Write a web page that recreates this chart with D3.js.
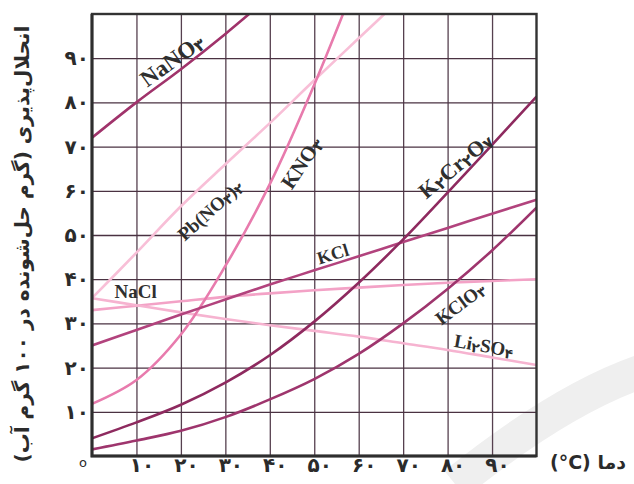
<!DOCTYPE html>
<html>
<head>
<meta charset="utf-8">
<script src="https://cdn.jsdelivr.net/npm/d3@7"></script>
<style>
  body { margin: 0; background: #fff; }
  #canvas { width: 634px; height: 484px; }
</style>
</head>
<body>
<div id="canvas"></div>
<script>
// temperatures (°C) and solubility values
const temps = [0, 10, 20, 30, 40, 50, 60, 70, 80, 90, 100];
const nano3 = [72, 80, 87.5, 95.5, 104];                 // 0..40
const kno3 = [11.8, 17.2, 27.5, 43, 61.5, 84, 109];       // 0..60
const pbno32 = [35.7, 46, 56.5, 66, 75.3, 85, 94.5, 104]; // 0..70
const kcl = [25, 28.5, 32, 35.4, 38.8, 42, 45.2, 48.4, 51.6, 54.8, 58];
const nacl = [33, 34, 35, 36, 36.8, 37.5, 38.1, 38.7, 39.2, 39.6, 40];
const li2so4 = [35.7, 34.1, 32.5, 31, 29.6, 28.3, 27, 25.5, 24, 22.3, 20.6];
const k2cr2o7 = [4, 7.6, 11.6, 16.6, 22.8, 30.4, 39.2, 49, 59.6, 70.4, 81.3];
const kclo3 = [1.5, 3.5, 5.7, 8.8, 12.8, 17.4, 23.1, 30, 37.8, 46.5, 56.2];

const xTicks = [10, 20, 30, 40, 50, 60, 70, 80, 90];
const yTicks = [10, 20, 30, 40, 50, 60, 70, 80, 90];
const yTitle = "انحلال‌پذیری (گرم حل‌شونده در ۱۰۰ گرم آب)";
const xTitle = "دما (\u200E°C)";

const series = [
  { name: "Pb(NO3)2", values: pbno32, color: "#f8bfd7" },
  { name: "NaCl", values: nacl, color: "#f3a2c6" },
  { name: "Li2SO4", values: li2so4, color: "#f6b3d0" },
  { name: "KNO3", values: kno3, color: "#e87bad" },
  { name: "KCl", values: kcl, color: "#b2437d" },
  { name: "NaNO3", values: nano3, color: "#a0336b" },
  { name: "K2Cr2O7", values: k2cr2o7, color: "#8e2a5f" },
  { name: "KClO3", values: kclo3, color: "#9e356d" }
];

// label text pieces: [text, isSubscript]; placed at (t, s) in data units
const labels = [
  { parts: [["NaNO", 0], ["۳", 1]], t: 18, s: 89.6, angle: -36, size: 23 },
  { parts: [["Pb(NO", 0], ["۳", 1], [")", 0], ["۲", 1]], t: 26.5, s: 55.7, angle: -42, size: 19 },
  { parts: [["KNO", 0], ["۳", 1]], t: 47.2, s: 66.3, angle: -56, size: 21 },
  { parts: [["K", 0], ["۲", 1], ["Cr", 0], ["۲", 1], ["O", 0], ["۷", 1]], t: 81.7, s: 65.8, angle: -40, size: 22 },
  { parts: [["KCl", 0]], t: 54.2, s: 45.7, angle: -17, size: 18 },
  { parts: [["NaCl", 0]], t: 9.8, s: 37.3, angle: 0, size: 19 },
  { parts: [["KClO", 0], ["۳", 1]], t: 82.8, s: 34.6, angle: -37, size: 19 },
  { parts: [["Li", 0], ["۲", 1], ["SO", 0], ["۴", 1]], t: 88.2, s: 25.1, angle: 10, size: 19 }
];

const W = 634, H = 484;
const faDigits = "۰۱۲۳۴۵۶۷۸۹";
const toFa = d => String(d).replace(/\d/g, c => faDigits[+c]);

let svg = d3.select("#canvas")
            .append("svg")
                .attr("width", W)
                .attr("height", H)
                .attr("viewBox", [0, 0, W, H]);

// faint watermark swoosh
svg.append("path")
    .attr("d", "M455,484 Q560,400 640,372")
    .attr("fill", "none")
    .attr("stroke", "#efefef")
    .attr("stroke-width", 34);

let x = d3.scaleLinear().domain([0, 100]).range([92, 536.5]);
let y = d3.scaleLinear().domain([0, 100]).range([456, 14]);

// grid
svg.append("g")
    .attr("transform", "translate(0," + y(0) + ")")
    .call(d3.axisBottom(x).tickValues(xTicks).tickSize(-(y(0) - y(100))).tickFormat(""))
    .call(g => g.select(".domain").remove())
    .call(g => g.selectAll("line").attr("stroke", "#56404f").attr("stroke-width", 1.3));
svg.append("g")
    .attr("transform", "translate(" + x(0) + ",0)")
    .call(d3.axisLeft(y).tickValues(yTicks).tickSize(-(x(100) - x(0))).tickFormat(""))
    .call(g => g.select(".domain").remove())
    .call(g => g.selectAll("line").attr("stroke", "#4a3242").attr("stroke-width", 1.3));

// curves
svg.append("clipPath").attr("id", "plotclip")
    .append("rect")
        .attr("x", x(0)).attr("y", y(100))
        .attr("width", x(100) - x(0)).attr("height", y(0) - y(100));

let line = d3.line()
    .x((d, i) => x(temps[i]))
    .y(d => y(d))
    .curve(d3.curveCatmullRom.alpha(0.5));

svg.append("g")
    .attr("clip-path", "url(#plotclip)")
    .selectAll("path")
    .data(series)
    .enter().append("path")
        .attr("d", d => line(d.values))
        .attr("fill", "none")
        .attr("stroke", d => d.color)
        .attr("stroke-width", 2.6);

// frame
svg.append("rect")
    .attr("x", x(0)).attr("y", y(100))
    .attr("width", x(100) - x(0)).attr("height", y(0) - y(100))
    .attr("fill", "none")
    .attr("stroke", "#333")
    .attr("stroke-width", 2.4);
svg.append("path")
    .attr("d", "M" + x(0) + "," + y(100) + "V" + y(0) + "H" + x(100))
    .attr("fill", "none")
    .attr("stroke", "#2e2e2e")
    .attr("stroke-width", 3);

// tick labels
const tickFont = "'DejaVu Sans', sans-serif";
svg.append("g")
    .attr("transform", "translate(0," + y(0) + ")")
    .call(d3.axisBottom(x).tickValues(xTicks).tickSize(0).tickPadding(15).tickFormat(toFa))
    .call(g => g.select(".domain").remove())
    .call(g => g.selectAll("text")
        .attr("font-family", tickFont)
        .attr("font-weight", "bold")
        .attr("font-size", 20)
        .attr("fill", "#2b2b2b")
        .attr("dx", 5)
        .attr("dy", "0.05em"));
svg.append("g")
    .attr("transform", "translate(" + x(0) + ",0)")
    .call(d3.axisLeft(y).tickValues(yTicks).tickSize(0).tickPadding(3).tickFormat(toFa))
    .call(g => g.select(".domain").remove())
    .call(g => g.selectAll("text")
        .attr("font-family", tickFont)
        .attr("font-weight", "bold")
        .attr("font-size", 20)
        .attr("fill", "#2b2b2b"));

// origin label
svg.append("text")
    .attr("x", x(0) - 9).attr("y", y(0) + 11)
    .attr("text-anchor", "middle")
    .attr("font-family", tickFont)
    .attr("font-size", 13)
    .attr("fill", "#2b2b2b")
    .text("o");

// axis titles
svg.append("text")
    .attr("transform", "translate(22," + 244 + ") rotate(-90)")
    .attr("direction", "rtl")
    .attr("text-anchor", "middle")
    .attr("dominant-baseline", "central")
    .attr("font-family", tickFont)
    .attr("font-weight", "bold")
    .attr("font-size", 20)
    .attr("fill", "#2b2b2b")
    .text(yTitle);

svg.append("text")
    .attr("x", 588).attr("y", 469)
    .attr("direction", "rtl")
    .attr("text-anchor", "middle")
    .attr("font-family", tickFont)
    .attr("font-weight", "bold")
    .attr("font-size", 19)
    .attr("fill", "#2b2b2b")
    .text(xTitle);

// curve labels
const labelFont = "'Liberation Serif', 'DejaVu Sans', serif";
labels.forEach(l => {
    let t = svg.append("text")
        .attr("transform", "translate(" + x(l.t) + "," + y(l.s) + ") rotate(" + l.angle + ")")
        .attr("text-anchor", "middle")
        .attr("dominant-baseline", "central")
        .attr("font-family", labelFont)
        .attr("font-weight", "bold")
        .attr("font-size", l.size)
        .attr("fill", "#2f2f2f");
    let shift = 0;
    l.parts.forEach(p => {
        let ts = t.append("tspan").text(p[0]);
        if (p[1]) {
            ts.attr("font-size", l.size * 0.72)
              .attr("font-family", "'DejaVu Sans', sans-serif")
              .attr("dy", 4 - shift);
            shift = 4;
        } else {
            if (shift) ts.attr("dy", -shift);
            shift = 0;
        }
    });
});
</script>
</body>
</html>
